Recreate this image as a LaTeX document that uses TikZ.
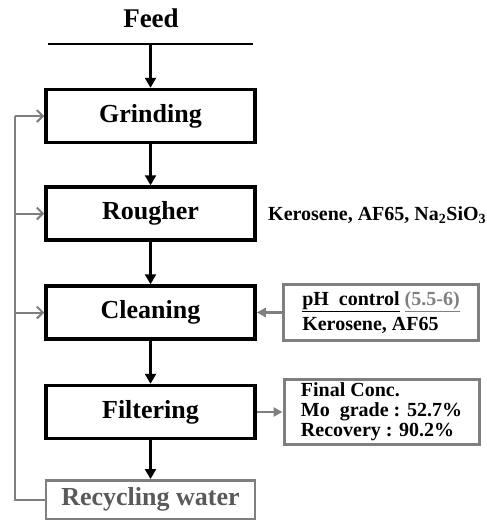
\documentclass[tikz,border=0pt]{standalone}
\usepackage{fontspec}
\setmainfont{Liberation Serif}
\usepackage{xcolor}
\usetikzlibrary{arrows.meta}
\definecolor{linegray}{HTML}{7F7F7F}
\definecolor{textgray}{HTML}{595959}

\begin{document}
\begin{tikzpicture}[x=1pt, y=-1pt,
    stage/.style={rectangle, draw, line width=3.5pt, minimum width=209pt, minimum height=53pt, inner sep=0pt, font=\fontsize{26}{28}\selectfont\bfseries},
    side/.style={rectangle, draw=linegray, line width=3pt, minimum width=195pt, inner sep=0pt, align=left},
    flow/.style={-{Triangle[length=10pt, width=11pt]}, line width=3pt},
    back/.style={-{Straight Barb[length=6pt, width=12pt]}, draw=linegray, line width=2pt},
    feedside/.style={-{Triangle[length=9pt, width=9pt]}, draw=linegray, fill=linegray, line width=2.5pt}]
    \useasboundingbox (0,0) rectangle (487,522);

    % feed
    \node[font=\fontsize{27}{29}\selectfont\bfseries] (feed) at (151, 18) {Feed};
    \coordinate (lineL) at (48, 44);
    \coordinate (lineR) at (253, 44);
    \coordinate (feedin) at (150.5, 44);
    \draw[line width=2pt] (lineL) -- (lineR);

    % stages
    \node[stage] (grind) at (150.5, 116) {Grinding};
    \node[stage] (rough) at (150.5, 213.5) {Rougher};
    \node[stage] (clean) at (150.5, 312.5) {Cleaning};
    \node[stage] (filt) at (150.5, 412) {Filtering};
    \node[stage, draw=linegray, text=textgray, line width=2.5pt, minimum height=38.5pt] (recyc) at (150.5, 499.5) {Recycling water};

    \draw[flow] (feedin) -- (grind);
    \draw[flow] (grind) -- (rough);
    \draw[flow] (rough) -- (clean);
    \draw[flow] (clean) -- (filt);
    \draw[flow] (filt) -- (recyc);

    % recycling loop
    \coordinate (loopB) at (15, 499.5);
    \coordinate (loopT) at (15, 116);
    \draw[linegray, line width=2pt] (recyc.west) -- (loopB) -- (loopT);
    \draw[back] (loopT) -- (grind.west);
    \draw[back] (loopT |- rough.west) -- (rough.west);
    \draw[back] (loopT |- clean.west) -- (clean.west);

    % reagents and products
    \node[anchor=west, inner sep=0pt, font=\fontsize{20}{22}\selectfont\bfseries] (reag) at (268, 215) {Kerosene, AF65, Na\textsubscript{2}SiO\textsubscript{3}};
    \node[side, minimum height=56pt, font=\fontsize{20}{25}\selectfont\bfseries] (phctrl) at (381, 312.5) {\underline{pH\ \ control} \textcolor{linegray}{\underline{(5.5-6)}}\\Kerosene, AF65};
    \node[side, minimum height=65pt, font=\fontsize{20}{20}\selectfont\bfseries] (conc) at (381.5, 412) {Final Conc.\\Mo\ \ grade : 52.7\%\\Recovery : 90.2\%};

    \draw[feedside] (phctrl) -- (clean);
    \draw[feedside] (filt) -- (conc);
\end{tikzpicture}
\end{document}
